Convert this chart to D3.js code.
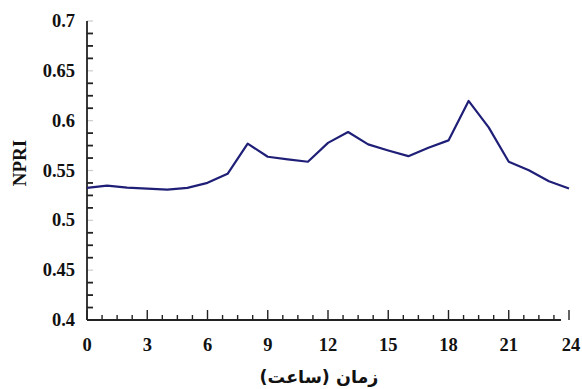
<!DOCTYPE html>
<html>
<head>
<meta charset="utf-8">
<script src="https://cdn.jsdelivr.net/npm/d3@7"></script>
<style>
  html, body { margin: 0; padding: 0; background: #fff; }
  svg { display: block; }
</style>
</head>
<body>
<svg id="chart" width="582" height="389"></svg>
<script>
// Hourly NPRI readings over one day
const hours = [0, 1, 2, 3, 4, 5, 6, 7, 8, 9, 10, 11, 12, 13, 14, 15, 16, 17, 18, 19, 20, 21, 22, 23, 24];
const npri  = [0.5326, 0.5349, 0.5329, 0.5319, 0.5309, 0.5326, 0.5376, 0.5467, 0.5769, 0.5638,
               0.5611, 0.5588, 0.5777, 0.5886, 0.5762, 0.5701, 0.5644, 0.5729, 0.5802, 0.6198,
               0.5933, 0.5588, 0.5503, 0.5392, 0.5319];
const xTicks = [0, 3, 6, 9, 12, 15, 18, 21, 24];
const yTicks = [0.4, 0.45, 0.5, 0.55, 0.6, 0.65, 0.7];

const svg = d3.select("#chart");
const plotLeft = 87, plotRight = 569, plotTop = 21, plotBottom = 320;

const x = d3.scaleLinear().domain([0, 24]).range([plotLeft, plotRight]);
const y = d3.scaleLinear().domain([0.4, 0.7]).range([plotBottom, plotTop]);

const font = "'Liberation Serif', 'Times New Roman', serif";

// minor ticks
const xMinor = d3.range(0, 24.001, 0.75).filter(v => !xTicks.includes(v));
const yMinor = d3.range(0.4, 0.7001, 0.0125).map(v => +v.toFixed(4)).filter(v => !yTicks.some(t => Math.abs(t - v) < 1e-6));

const g = svg.append("g");

g.selectAll(".xminor").data(xMinor).join("line")
  .attr("x1", d => x(d)).attr("x2", d => x(d))
  .attr("y1", plotBottom).attr("y2", plotBottom - 5)
  .attr("stroke", "#222").attr("stroke-width", 1.4);

g.selectAll(".xmajor").data(xTicks).join("line")
  .attr("x1", d => x(d)).attr("x2", d => x(d))
  .attr("y1", plotBottom).attr("y2", plotBottom - 10)
  .attr("stroke", "#222").attr("stroke-width", 1.4);

g.selectAll(".yminor").data(yMinor).join("line")
  .attr("x1", plotLeft).attr("x2", plotLeft + 6)
  .attr("y1", d => y(d)).attr("y2", d => y(d))
  .attr("stroke", "#222").attr("stroke-width", 1.8);

g.selectAll(".ymajor").data(yTicks.filter(v => v > 0.4)).join("line")
  .attr("x1", plotLeft).attr("x2", plotLeft + 6)
  .attr("y1", d => y(d)).attr("y2", d => y(d))
  .attr("stroke", "#ccc").attr("stroke-width", 1.2);

// axis lines
g.append("line").attr("x1", plotLeft).attr("x2", plotLeft)
  .attr("y1", plotTop).attr("y2", plotBottom)
  .attr("stroke", "#222").attr("stroke-width", 1.8);
g.append("line").attr("x1", plotLeft).attr("x2", x(23.6))
  .attr("y1", plotBottom).attr("y2", plotBottom)
  .attr("stroke", "#222").attr("stroke-width", 1.8);

// tick labels
g.selectAll(".xl").data(xTicks).join("text")
  .attr("x", d => x(d) + (d === 24 ? 2 : 0)).attr("y", 351)
  .attr("text-anchor", "middle")
  .attr("font-family", font).attr("font-weight", "bold").attr("font-size", 18.5)
  .attr("fill", "#111")
  .text(d => d);

g.selectAll(".yl").data(yTicks).join("text")
  .attr("x", 75).attr("y", d => y(d) + 6)
  .attr("text-anchor", "end")
  .attr("font-family", font).attr("font-weight", "bold").attr("font-size", 18.5)
  .attr("fill", "#111")
  .text(d => d);

// axis titles
g.append("text")
  .attr("transform", "translate(26,163) rotate(-90)")
  .attr("text-anchor", "middle")
  .attr("font-family", font).attr("font-weight", "bold").attr("font-size", 19)
  .attr("fill", "#111")
  .text("NPRI");

g.append("text")
  .attr("x", 319).attr("y", 383)
  .attr("text-anchor", "middle")
  .attr("direction", "rtl")
  .attr("font-family", "'DejaVu Sans', sans-serif").attr("font-weight", "bold").attr("font-size", 17.5)
  .attr("fill", "#111")
  .text("زمان (ساعت)");

// data line
const line = d3.line().x((d, i) => x(hours[i])).y(d => y(d));
g.append("path")
  .datum(npri)
  .attr("d", line)
  .attr("fill", "none")
  .attr("stroke", "#1f1f78")
  .attr("stroke-width", 2.2)
  .attr("stroke-linejoin", "round");
</script>
</body>
</html>
